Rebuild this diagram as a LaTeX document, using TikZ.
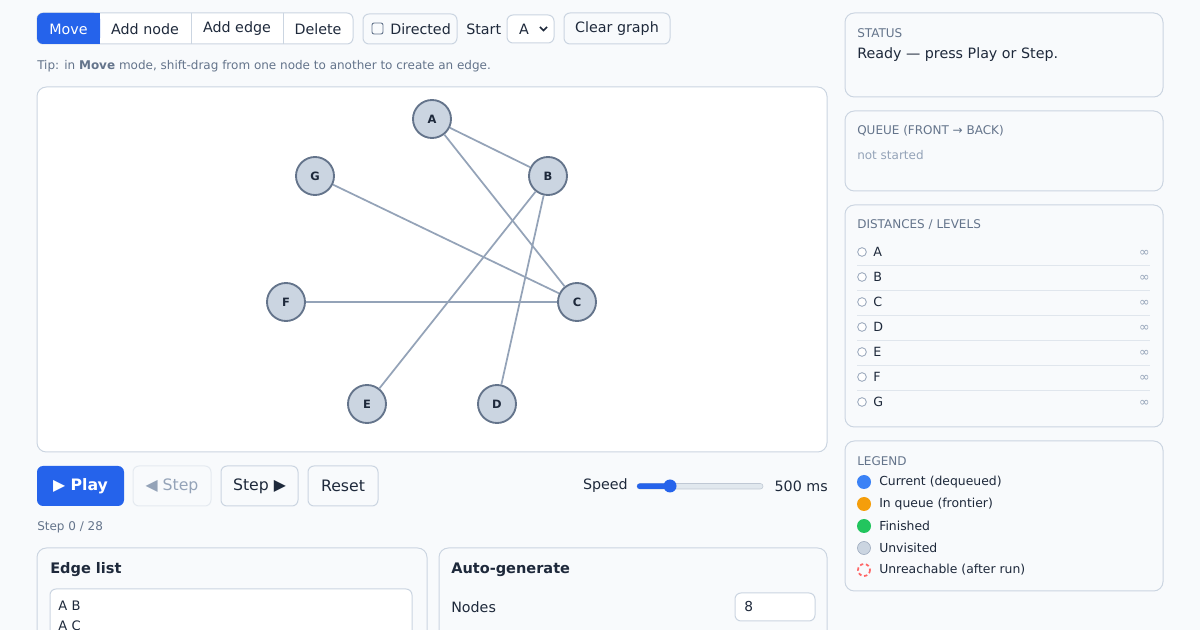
\documentclass[tikz,border=0pt]{standalone}
\usepackage{fontspec}
\setmainfont{DejaVu Sans}
\usetikzlibrary{backgrounds}
\begin{document}
\definecolor{bg}{HTML}{F8FAFC}
\definecolor{bd}{HTML}{CBD5E1}
\definecolor{blu}{HTML}{2563EB}
\definecolor{txt}{HTML}{1E293B}
\definecolor{mut}{HTML}{64748B}
\definecolor{lite}{HTML}{94A3B8}
\definecolor{ndf}{HTML}{CBD5E1}
\definecolor{nds}{HTML}{64748B}
\definecolor{edg}{HTML}{94A3B8}
\newcommand{\fs}[1]{\fontsize{#1}{#1}\selectfont}
\begin{tikzpicture}[x=0.75pt,y=-0.75pt,
  box/.style={draw=bd,line width=0.75pt,rounded corners=4.5pt},
  panel/.style={draw=bd,line width=0.75pt,rounded corners=7pt,fill=bg},
  t/.style={inner sep=0,text=txt,font=\fs{10.7pt}},
  capt/.style={inner sep=0,anchor=west,text=mut,font=\fs{9pt}},
  gn/.style={circle,draw=nds,fill=ndf,line width=1.4pt,minimum size=28.5pt,inner sep=0,font=\bfseries\fs{8.6pt},text=txt},
  ge/.style={draw=edg,line width=1.3pt},
  dot/.style={circle,draw=lite,line width=0.6pt,minimum size=6.5pt,inner sep=0,fill=white}]
\useasboundingbox (0,0) rectangle (1200,630);
% toolbar
\draw[box,fill=white] (37,13) rectangle (353,44);
\fill[blu,rounded corners=4.5pt] (37,13) rectangle (100,44);
\fill[blu] (90,13) rectangle (100,44);
\draw[bd,line width=0.75pt] (191,13)--(191,44) (283,13)--(283,44);
\node[t,text=white] (mv) at (68.5,29) {Move};
\node[t] (an) at (145,29) {Add node};
\node[t] (ae) at (237,29) {Add edge};
\node[t] (dl) at (318,29) {Delete};
\draw[box] (363,14) rectangle (457,44);
\draw[draw=nds,line width=0.7pt,rounded corners=1.5pt] (372,23) rectangle (383,34);
\node[t,anchor=west] (dr) at (390,29) {Directed};
\node[t,anchor=west] (st) at (466,29) {Start};
\draw[box,fill=white] (507,15) rectangle (554,43);
\node[t] (sa) at (524,29) {A};
\draw[txt,line width=1.2pt] (540,27)--(543.5,30.5)--(547,27);
\draw[box] (564,13) rectangle (670,44);
\node[t] (cg) at (617,29) {Clear graph};
\node[capt] (tip) at (37,66) {Tip: in \textbf{Move} mode, shift-drag from one node to another to create an edge.};
% canvas
\draw[box,fill=white,rounded corners=7pt] (37,87) rectangle (827,452);
\node[gn] (A) at (432,119) {A};
\node[gn] (B) at (548,176) {B};
\node[gn] (G) at (315,176) {G};
\node[gn] (C) at (577,302) {C};
\node[gn] (F) at (286,302) {F};
\node[gn] (E) at (367,404) {E};
\node[gn] (D) at (497,404) {D};
\draw[ge] (A)--(B); \draw[ge] (A)--(C); \draw[ge] (G)--(C);
\draw[ge] (B)--(E); \draw[ge] (B)--(D); \draw[ge] (F)--(C);
% controls
\fill[blu,rounded corners=4.5pt] (37,466) rectangle (124,506);
\node[t,text=white,font=\bfseries\fs{11.8pt}] (pl) at (80.5,486) {▶ Play};
\draw[box,draw=bd!50] (133,466) rectangle (211,506);
\node[t,text=lite,font=\fs{11.8pt}] (sb) at (172,486) {◀ Step};
\draw[box] (221,466) rectangle (298,506);
\node[t,font=\fs{11.8pt}] (sf) at (259.5,486) {Step ▶};
\draw[box] (308,466) rectangle (378,506);
\node[t,font=\fs{11.8pt}] (rs) at (343,486) {Reset};
\node[t,anchor=east] (sp) at (628,486) {Speed};
\fill[bg!50!bd,rounded corners=2pt,draw=lite!60] (637,483.5) rectangle (763,489);
\fill[blu,rounded corners=2pt] (637,483.5) rectangle (670,489);
\fill[blu] (670,486) circle (6.5);
\node[t,anchor=east] (ms) at (828,486) {500 ms};
\node[capt] (stp) at (37,527) {Step 0 / 28};
% bottom panels
\draw[panel] (37,548) rectangle (427,640);
\node[t,anchor=west,font=\bfseries\fs{10.9pt}] (el) at (50,570) {Edge list};
\draw[box,fill=white] (50,589) rectangle (412,640);
\node[t,anchor=west,font=\fs{9.8pt}] (l1) at (58,606) {A\,\,B};
\node[t,anchor=west,font=\fs{9.8pt}] (l2) at (58,626) {A\,\,C};
\draw[panel] (439,548) rectangle (827,640);
\node[t,anchor=west,font=\bfseries\fs{10.9pt}] (ag) at (451,570) {Auto-generate};
\node[t,anchor=west] (nd) at (451,607) {Nodes};
\draw[box,fill=white] (735,593) rectangle (815,621);
\node[t,anchor=west,font=\fs{10.3pt}] (n8) at (744,607) {8};
% right panels
\draw[panel] (845,13) rectangle (1163,97);
\node[capt] (s1) at (857,33) {STATUS};
\node[t,anchor=west] (s2) at (857,55) {Ready — press Play or Step.};
\draw[panel] (845,111) rectangle (1163,191);
\node[capt] (q1) at (857,131) {QUEUE (FRONT → BACK)};
\node[capt,text=lite] (q2) at (857,155) {not started};
\draw[panel] (845,205) rectangle (1163,427);
\node[capt] (d1) at (857,225) {DISTANCES / LEVELS};
\foreach \n [count=\i from 0] in {A,B,C,D,E,F,G}{
  \node[dot] (c\n) at (862,252+25*\i) {};
  \node[t,anchor=west,font=\fs{9.5pt}] (r\n) at (873,252+25*\i) {\n};
  \node[t,anchor=east,text=lite,font=\fs{9.5pt}] (i\n) at (1150,253+25*\i) {∞};
}
\foreach \i in {0,...,5}{\draw[draw=bd!60,line width=0.6pt] (857,265+25*\i)--(1150,265+25*\i);}
\draw[panel] (845,441) rectangle (1163,591);
\node[capt] (lg) at (857,461) {LEGEND};
\definecolor{c1}{HTML}{3B82F6}\definecolor{c2}{HTML}{F59E0B}\definecolor{c3}{HTML}{22C55E}
\fill[c1] (864,482) circle (7); \node[t,anchor=west,font=\fs{9.3pt}] (g1) at (879,482) {Current (dequeued)};
\fill[c2] (864,504) circle (7); \node[t,anchor=west,font=\fs{9.3pt}] (g2) at (879,504) {In queue (frontier)};
\fill[c3] (864,526) circle (7); \node[t,anchor=west,font=\fs{9.3pt}] (g3) at (879,526) {Finished};
\draw[fill=ndf,draw=lite] (864,548) circle (6.5); \node[t,anchor=west,font=\fs{9.3pt}] (g4) at (879,548) {Unvisited};
\draw[draw=red!60,line width=1.3pt,dash pattern=on 2.5pt off 2pt] (864,570) circle (6); \node[t,anchor=west,font=\fs{9.3pt}] (g5) at (879,570) {Unreachable (after run)};
\begin{scope}[on background layer]
\fill[bg] (0,0) rectangle (1200,630);
\end{scope}
\end{tikzpicture}
\end{document}
